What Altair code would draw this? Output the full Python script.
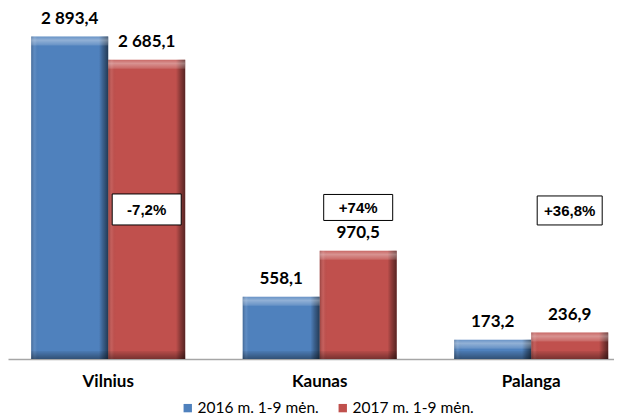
import altair as alt
import pandas as pd

cities = ["Vilnius", "Kaunas", "Palanga"]
series = ["2016 m. 1-9 mėn.", "2017 m. 1-9 mėn."]
values_2016 = [2893.4, 558.1, 173.2]
values_2017 = [2685.1, 970.5, 236.9]
labels_2016 = ["2 893,4", "558,1", "173,2"]
labels_2017 = ["2 685,1", "970,5", "236,9"]
change_labels = ["-7,2%", "+74%", "+36,8%"]
change_level = [1342, 1360, 1333]   # vertical position of the change boxes, in value units

BLUE = "#4F81BD"
RED = "#C0504D"

rows = []
for c, v, l in zip(cities, values_2016, labels_2016):
    rows.append({"city": c, "series": series[0], "value": v, "label": l, "zero": 0})
for c, v, l in zip(cities, values_2017, labels_2017):
    rows.append({"city": c, "series": series[1], "value": v, "label": l, "zero": 0})
df = pd.DataFrame(rows)

yscale = alt.Scale(domain=[0, 3150], nice=False, zero=True)
xenc = alt.X(
    "city:N", sort=cities,
    scale=alt.Scale(paddingInner=0.272, paddingOuter=0.0686, align=0.8),
    axis=alt.Axis(title=None, labelAngle=0, ticks=False, domainColor="#A6A6A6",
                  domainWidth=1.5, labelFont="Lato", labelFontWeight="bold",
                  labelFontSize=17, labelColor="black", labelPadding=14),
)
xoff = alt.XOffset("series:N", sort=series, scale=alt.Scale(paddingInner=0, paddingOuter=0))

base = alt.Chart(df).encode(x=xenc, xOffset=xoff)

bars = base.mark_bar(strokeWidth=0).encode(
    y=alt.Y("value:Q", scale=yscale, axis=None),
    color=alt.Color(
        "series:N", sort=series,
        scale=alt.Scale(domain=series, range=[BLUE, RED]),
        legend=alt.Legend(
            title=None, orient="none", legendX=172, legendY=392, direction="horizontal",
            symbolType="square", symbolSize=70, symbolStrokeWidth=0,
            labelFont="Lato", labelFontSize=15.5, labelColor="black", columnPadding=16,
            labelOffset=2,
        ),
    ),
)

side_shade = base.mark_bar(
    strokeWidth=0,
    fill=alt.LinearGradient(
        gradient="linear", x1=0, x2=1, y1=0, y2=0,
        stops=[
            alt.GradientStop(color="rgba(0,0,0,0.22)", offset=0),
            alt.GradientStop(color="rgba(255,255,255,0.08)", offset=0.05),
            alt.GradientStop(color="rgba(0,0,0,0.0)", offset=0.1),
            alt.GradientStop(color="rgba(0,0,0,0.0)", offset=0.88),
            alt.GradientStop(color="rgba(0,0,0,0.25)", offset=0.93),
            alt.GradientStop(color="rgba(0,0,0,0.55)", offset=1),
        ],
    ),
).encode(y=alt.Y("value:Q", scale=yscale, axis=None))

top_strip = base.mark_bar(
    strokeWidth=0, y2Offset=9,
    fill=alt.LinearGradient(
        gradient="linear", x1=0, x2=0, y1=0, y2=1,
        stops=[
            alt.GradientStop(color="rgba(255,255,255,0.15)", offset=0),
            alt.GradientStop(color="rgba(255,255,255,0.38)", offset=0.4),
            alt.GradientStop(color="rgba(255,255,255,0.12)", offset=1),
        ],
    ),
).encode(y=alt.Y("value:Q", scale=yscale, axis=None), y2=alt.Y2("value"))

bottom_strip = base.mark_bar(
    strokeWidth=0, yOffset=-8,
    fill=alt.LinearGradient(
        gradient="linear", x1=0, x2=0, y1=0, y2=1,
        stops=[
            alt.GradientStop(color="rgba(0,0,0,0.05)", offset=0),
            alt.GradientStop(color="rgba(0,0,0,0.38)", offset=1),
        ],
    ),
).encode(y=alt.Y("zero:Q", scale=yscale, axis=None), y2=alt.Y2("zero"))

value_text = base.mark_text(
    font="Lato", fontWeight="bold", fontSize=17, dy=-18, baseline="middle", color="black"
).encode(y=alt.Y("value:Q", scale=yscale, axis=None), text="label:N")

# change boxes
box_w = [69, 69, 65]
box_h = [31, 26, 29]
box_shift = [0, -3, -13]
box_layers = []
for c, lab, lev, w, h, s in zip(cities, change_labels, change_level, box_w, box_h, box_shift):
    r = h / w
    path = f"M-1,{-r:.4f}L1,{-r:.4f}L1,{r:.4f}L-1,{r:.4f}Z"
    adf = pd.DataFrame([{"city": c, "series": series[1], "level": lev, "label": lab}])
    ab = alt.Chart(adf).encode(
        x=alt.X("city:N", sort=cities), xOffset=alt.XOffset("series:N", sort=series),
        y=alt.Y("level:Q", scale=yscale, axis=None),
    )
    box_layers.append(ab.mark_point(shape=path, size=w * w, filled=False, fill="white",
                                    fillOpacity=1, stroke="black", strokeWidth=1,
                                    opacity=1, xOffset=s))
    box_layers.append(ab.mark_text(font="Liberation Sans", fontWeight="bold", fontSize=15,
                                   color="black", baseline="middle", xOffset=s, dy=1)
                      .encode(text="label:N"))

chart = alt.layer(bars, side_shade, top_strip, bottom_strip, value_text, *box_layers).properties(
    width=606, height=351, padding=0
).configure_view(stroke=None)

chart.save("out.html", embed_options={"renderer": "svg", "actions": False})
